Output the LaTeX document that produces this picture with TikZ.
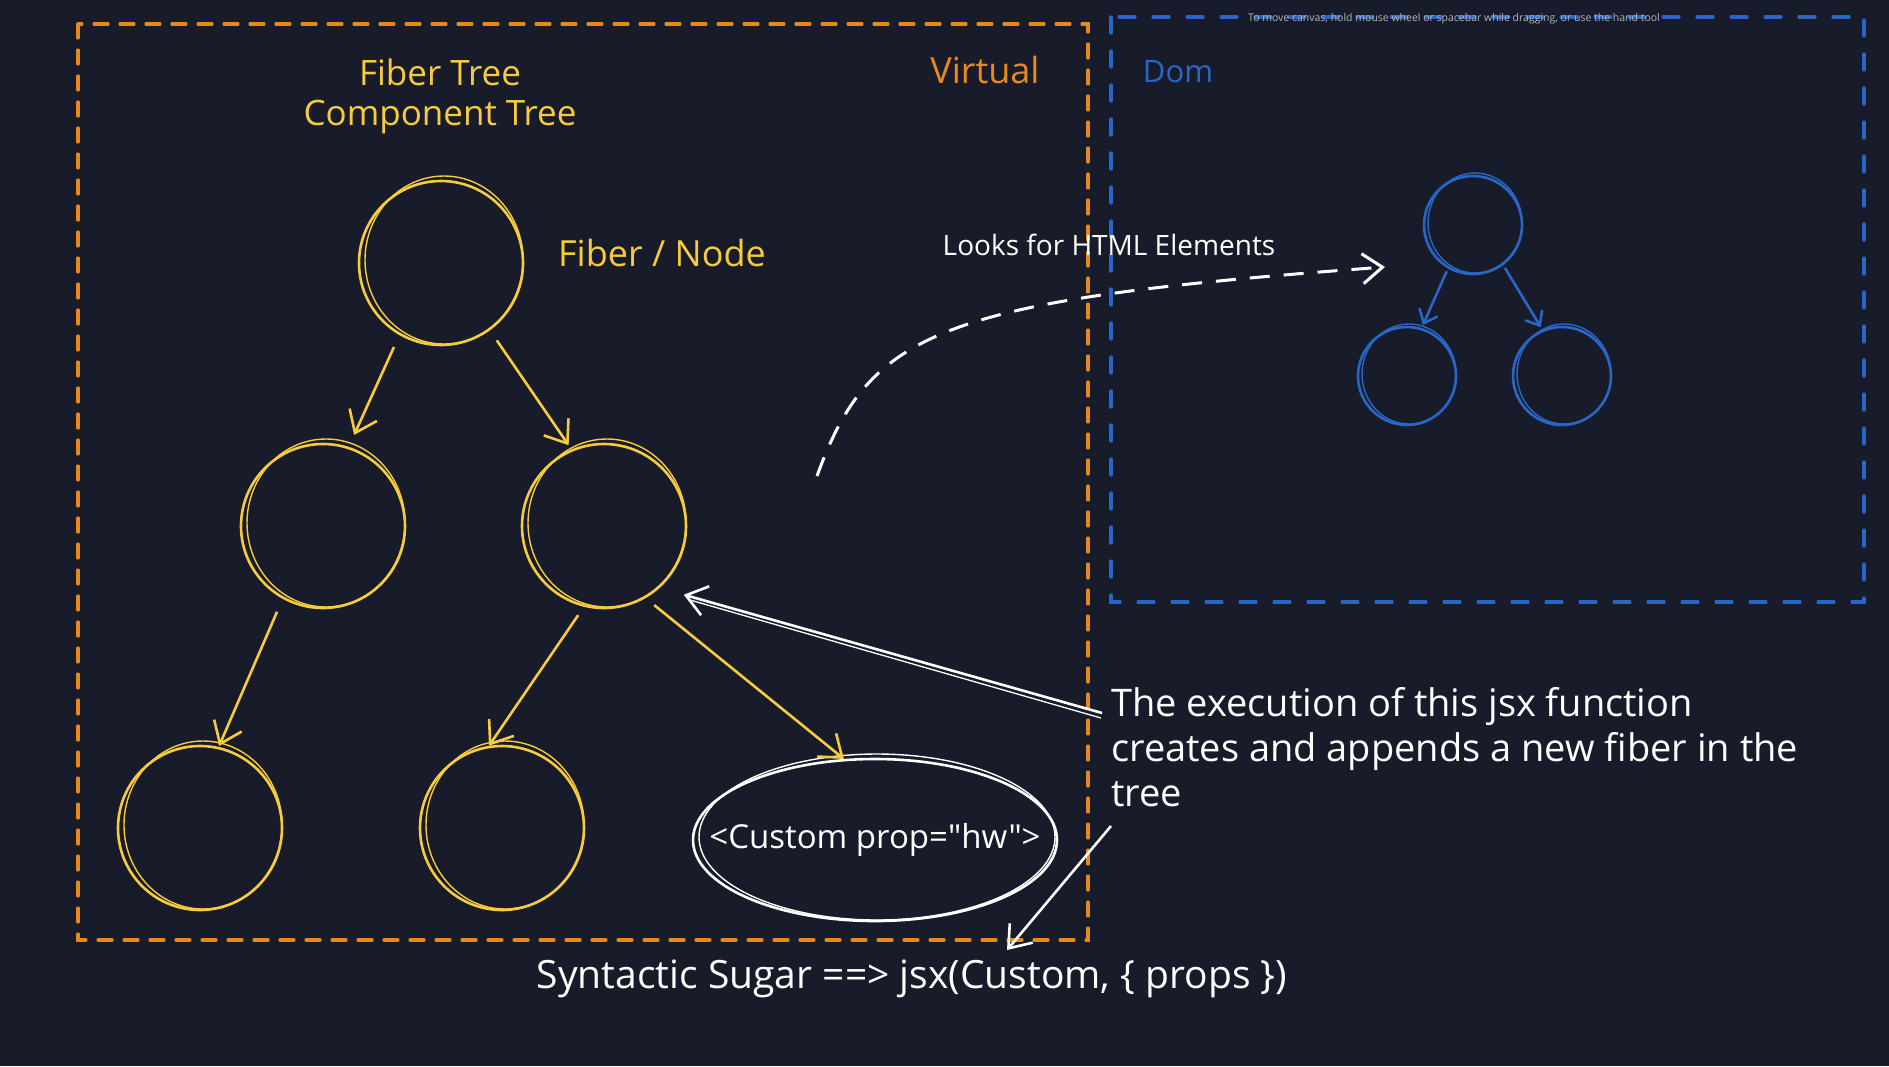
\documentclass[tikz,border=0pt]{standalone}
\usepackage{fontspec}
\setmainfont{Open Sans}[Ligatures=TeXOff]
\usetikzlibrary{arrows.meta,shapes.geometric}
\definecolor{bg}{HTML}{181B29}
\definecolor{yel}{HTML}{F7CB3E}
\definecolor{org}{HTML}{E8891E}
\definecolor{blu}{HTML}{2866C8}
\definecolor{hint}{HTML}{B4B6BE}
\newcommand{\fsz}[1]{\fontsize{#1}{#1}\selectfont}
\begin{document}
\begin{tikzpicture}[x=1pt,y=-1pt,
  fib/.style={circle,draw=yel,line width=2.6pt,minimum size=164pt,inner sep=0pt},
  dfib/.style={circle,draw=blu,line width=2.6pt,minimum size=98pt,inner sep=0pt},
  yarr/.style={draw=yel,line width=2.6pt,-{Straight Barb[length=20pt,width=30pt,line width=2.6pt]}},
  warr/.style={draw=white,line width=2.6pt,-{Straight Barb[length=20pt,width=30pt,line width=2.6pt]}},
  barr/.style={draw=blu,line width=2.6pt,-{Straight Barb[length=12pt,width=20pt,line width=2.6pt]}},
  lbl/.style={inner sep=0pt},
]
\fill[bg] (0,0) rectangle (1889,1066);
\useasboundingbox (0,0) rectangle (1889,1066);

% frames
\draw[org,line width=3.2pt,dash pattern=on 14pt off 12pt,line cap=round] (78,24) rectangle (1088,940);
\draw[blu,line width=3.2pt,dash pattern=on 16pt off 18pt,line cap=round] (1111,17) rectangle (1864,602);

% hint text
\node[text=hint,font=\fsz{10.5},inner sep=0pt] (hint) at (1454,19) {To move canvas, hold mouse wheel or spacebar while dragging, or use the hand tool};

% titles
\node[lbl,text=yel,font=\fsz{35}] (t1) at (440,72) {Fiber Tree};
\node[lbl,text=yel,font=\fsz{35}] (t2) at (440,117) {Component Tree};
\node[lbl,text=org,font=\fsz{36}] (virt) at (985,70) {Virtual};
\node[lbl,text=blu,font=\fsz{31}] (dom) at (1178,72) {Dom};
\node[lbl,text=yel,font=\fsz{36}] (fn) at (662,253) {Fiber / Node};

% fiber tree
\node[fib] (r) at (441,263) {};
\node[fib] (m1) at (323,526) {};
\node[fib] (m2) at (604,526) {};
\node[fib] (b1) at (200,828) {};
\node[fib] (b2) at (502,828) {};
\foreach \n in {r,m1,m2,b1,b2}
  \draw[yel,line width=1.4pt] ([shift={(3,-3)}]\n.center) ellipse [x radius=79, y radius=84];

\node[ellipse,draw=white,line width=2.6pt,minimum width=364pt,minimum height=162pt,inner sep=-40pt,
      text=white,font=\fsz{33}] (cust) at (875,840) {<Custom prop="hw">};
\draw[white,line width=1.4pt] (877,837) ellipse [x radius=178, y radius=83];

\draw[yarr,shorten <=13pt,shorten >=13pt] (r.-120) -- (m1.72);
\draw[yarr,shorten <=12pt,shorten >=5pt] (r.-54) -- (m2.113);
\draw[yarr,shorten <=14pt,shorten >=1pt] (m1.-119) -- (b1.77);
\draw[yarr,shorten <=10pt] (m2.-104) -- (b2.99);
\draw[yarr,shorten <=11pt] (m2.-60) -- (cust.111);

% DOM tree
\node[dfib] (dr) at (1473,225) {};
\node[dfib] (dl) at (1407,376) {};
\node[dfib] (drr) at (1562,376) {};
\foreach \n in {dr,dl,drr}
  \draw[blu,line width=1.4pt] ([shift={(2,-2)}]\n.center) ellipse [x radius=47, y radius=50];
\draw[barr,shorten <=3pt,shorten >=3pt] (dr.-120) -- (dl.73);
\draw[barr,shorten <=3pt,shorten >=3pt] (dr.-53) -- (drr.113);

% dashed lookup arrow
\node[text=white,font=\fsz{28},inner sep=0pt] (look) at (1109,245) {Looks for HTML Elements};
\coordinate (d0) at (817,476);
\coordinate (d1) at (1385,267);
\draw[white,line width=3pt,dash pattern=on 20pt off 14pt,
      -{Straight Barb[length=20pt,width=30pt,line width=3pt]}]
  (d0) .. controls (870,330) and (940,300) .. (d1);

% explanation
\node[text=white,font=\fontsize{38}{45}\selectfont,align=left,anchor=west,inner sep=0pt] (exec) at (1111,747)
  {The execution of this jsx function\\creates and appends a new fiber in the\\tree};
\coordinate (e1) at (1102,713);
\draw[warr,shorten >=25pt] (e1) -- (m2.-48);
\draw[white,line width=1.3pt] (1101,718) -- (690,600);

\node[text=white,font=\fsz{39},inner sep=0pt] (syn) at (912,979) {Syntactic Sugar ==> jsx(Custom, \{ props \})};
\coordinate (e2) at (1111,826);
\draw[warr] (e2) -- (1007,950);
\end{tikzpicture}
\end{document}
